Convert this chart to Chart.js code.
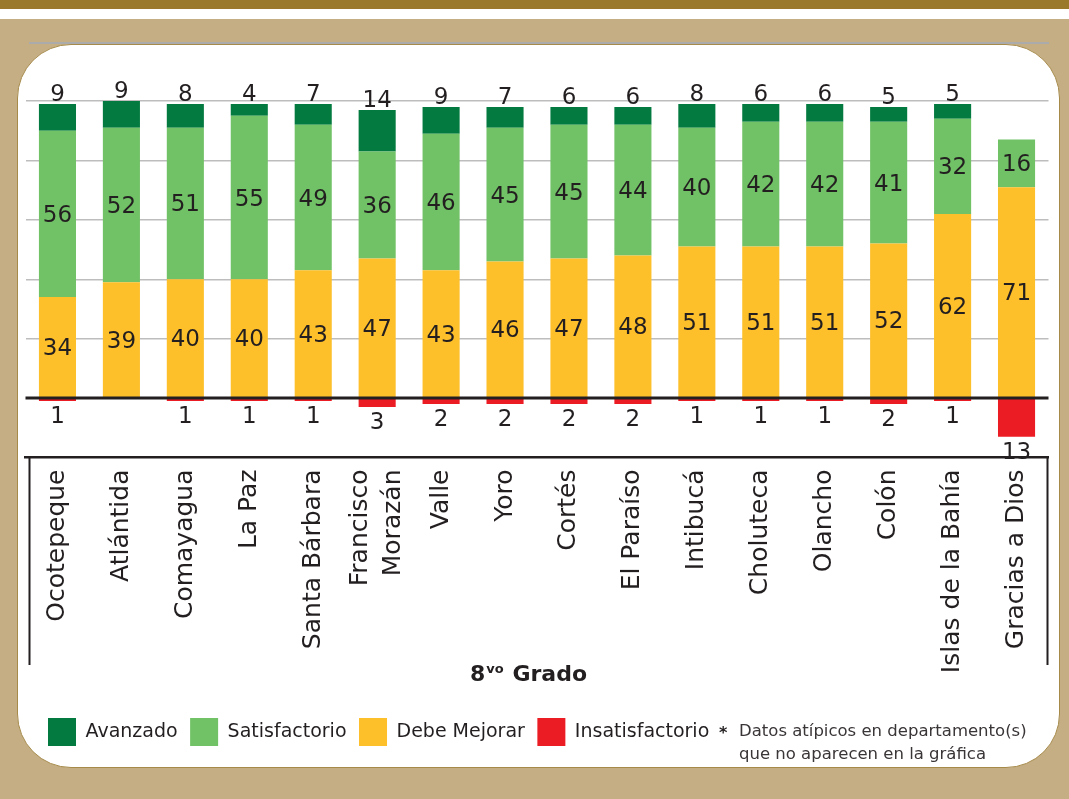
<!DOCTYPE html>
<html><head><meta charset="utf-8">
<script src="https://cdn.jsdelivr.net/npm/chart.js@4.4.1/dist/chart.umd.min.js"></script>
<style>
html,body{margin:0;padding:0;}
body{width:1069px;height:799px;position:relative;overflow:hidden;background:#c5ae84;}
#topbar{position:absolute;left:0;top:0;width:1069px;height:9px;background:#9a792d;}
#strip{position:absolute;left:0;top:9px;width:1069px;height:10px;background:#fff;}
#panel{position:absolute;left:17px;top:44px;width:1043px;height:724px;box-sizing:border-box;background:#fff;border:1.5px solid #a68a4a;border-radius:54px;}
#rule{position:absolute;left:29px;top:42px;width:1020px;height:2px;background:#ababab;}
canvas{position:absolute;left:0;top:0;}
</style></head>
<body>
<div id="topbar"></div><div id="strip"></div><div id="panel"></div><div id="rule"></div>
<canvas id="c" width="1069" height="799"></canvas>
<script>
const categories = ["Ocotepeque","Atlántida","Comayagua","La Paz","Santa Bárbara",["Francisco","Morazán"],"Valle","Yoro","Cortés","El Paraíso","Intibucá","Choluteca","Olancho","Colón","Islas de la Bahía","Gracias a Dios"];
const avanzado        = [9, 9, 8, 4, 7, 14, 9, 7, 6, 6, 8, 6, 6, 5, 5, null];
const satisfactorio   = [56, 52, 51, 55, 49, 36, 46, 45, 45, 44, 40, 42, 42, 41, 32, 16];
const debeMejorar     = [34, 39, 40, 40, 43, 47, 43, 46, 47, 48, 51, 51, 51, 52, 62, 71];
const insatisfactorio = [1, null, 1, 1, 1, 3, 2, 2, 2, 2, 1, 1, 1, 2, 1, 13];
const legendOrder = ["Avanzado","Satisfactorio","Debe Mejorar","Insatisfactorio"];
const axisTitle = {base:"8", sup:"vo", rest:" Grado"};
const noteLines = ["Datos atípicos en departamento(s)","que no aparecen en la gráfica"];

const FONT = '"DejaVu Sans", sans-serif';
const INK = '#231f20';

const decoPlugin = {
  id: 'deco',
  afterLayout(chart) {
    if (chart.legend) { chart.legend.left += 10; chart.legend.right += 10; }
  },
  beforeDraw(chart) {
    const xs = chart.scales.x;
    const items = xs.getLabelItems();
    items.forEach(it => {
      if (Array.isArray(it.label) && it.label.length > 1) {
        const lh = it.font.lineHeight;
        it.options.translation[0] -= (it.label.length - 1) * lh / 2;
      }
    });
  },
  afterDatasetsDraw(chart) {
    const ctx = chart.ctx, ca = chart.chartArea, ys = chart.scales.y;
    ctx.save();
    const y0 = ys.getPixelForValue(0);
    ctx.strokeStyle = INK; ctx.lineWidth = 3;
    ctx.beginPath(); ctx.moveTo(ca.left, y0); ctx.lineTo(ca.right, y0); ctx.stroke();
    ctx.font = '23px ' + FONT; ctx.fillStyle = INK; ctx.textAlign = 'center'; ctx.textBaseline = 'alphabetic';
    chart.data.datasets.forEach((ds, di) => {
      const meta = chart.getDatasetMeta(di);
      meta.data.forEach((bar, i) => {
        const v = ds.data[i];
        if (v === null || v === 0) return;
        const p = bar.getProps(['x','y','base'], true);
        const top = Math.min(p.y, p.base), bottom = Math.max(p.y, p.base);
        let ty;
        if (ds.label === 'Avanzado') ty = top - 3;
        else if (ds.label === 'Insatisfactorio') ty = bottom + 22;
        else ty = (top + bottom) / 2 + 8;
        ctx.fillText(String(Math.abs(v)), p.x, ty);
      });
    });
    ctx.restore();
  },
  afterDraw(chart) {
    const ctx = chart.ctx, ca = chart.chartArea;
    ctx.save();
    // label box side lines
    ctx.strokeStyle = INK; ctx.lineWidth = 2;
    const boxBottom = 665;
    ctx.beginPath();
    ctx.moveTo(ca.left + 4, ca.bottom); ctx.lineTo(ca.left + 4, boxBottom);
    ctx.moveTo(ca.right - 1, ca.bottom); ctx.lineTo(ca.right - 1, boxBottom);
    ctx.stroke();
    // axis title with superscript
    ctx.fillStyle = INK; ctx.textBaseline = 'alphabetic'; ctx.textAlign = 'left';
    ctx.font = 'bold 22px ' + FONT; const w1 = ctx.measureText(axisTitle.base).width;
    const w3 = ctx.measureText(axisTitle.rest).width;
    ctx.font = 'bold 13px ' + FONT; const w2 = ctx.measureText(axisTitle.sup).width + 1;
    const cx = (ca.left + ca.right) / 2 - 9;
    let x = cx - (w1 + w2 + w3) / 2;
    const by = 681;
    ctx.font = 'bold 22px ' + FONT; ctx.fillText(axisTitle.base, x, by); x += w1 + 1;
    ctx.font = 'bold 13px ' + FONT; ctx.fillText(axisTitle.sup, x, by - 8); x += w2;
    ctx.font = 'bold 22px ' + FONT; ctx.fillText(axisTitle.rest, x, by);
    // note
    ctx.font = 'bold 16px ' + FONT; ctx.fillText('*', 719, 738);
    ctx.font = '16.5px ' + FONT; ctx.fillStyle = '#3a3536';
    ctx.textBaseline = 'middle';
    ctx.fillText(noteLines[0], 739, 732);
    ctx.fillText(noteLines[1], 739, 755);
    ctx.restore();
  }
};

new Chart(document.getElementById('c'), {
  type: 'bar',
  data: {
    labels: categories,
    datasets: [
      {label: 'Debe Mejorar', data: debeMejorar, backgroundColor: '#fdbf2a'},
      {label: 'Satisfactorio', data: satisfactorio, backgroundColor: '#71c166'},
      {label: 'Avanzado', data: avanzado, backgroundColor: '#037a3f'},
      {label: 'Insatisfactorio', data: insatisfactorio.map(v => v === null ? null : -v), backgroundColor: '#ec1c24'}
    ]
  },
  options: {
    responsive: false,
    animation: false,
    devicePixelRatio: 1,
    layout: {padding: {left: 25.5, right: 20.5, top: 101, bottom: 43}},
    datasets: {bar: {categoryPercentage: 1, barPercentage: 0.58, borderWidth: 0}},
    scales: {
      x: {
        stacked: true,
        grid: {display: false, drawTicks: false},
        border: {display: true, color: INK, width: 2.5},
        ticks: {
          autoSkip: false, maxRotation: 90, minRotation: 90, padding: 12,
          color: INK, font: {family: FONT, size: 25, lineHeight: 1.3}
        },
        afterFit: s => { s.height = 248; }
      },
      y: {
        stacked: true, min: -20, max: 100,
        ticks: {display: false, stepSize: 20},
        border: {display: false},
        grid: {
          drawTicks: false,
          color: c => (c.tick && c.tick.value > 0) ? '#bdbdbd' : 'rgba(0,0,0,0)',
          lineWidth: 1.5
        },
        afterFit: s => { s.width = 0; }
      }
    },
    plugins: {
      tooltip: {enabled: false},
      legend: {
        position: 'bottom', align: 'start',
        labels: {
          boxWidth: 28, boxHeight: 28, padding: 12.5, color: INK,
          font: {family: FONT, size: 19},
          sort: (a, b) => legendOrder.indexOf(a.text) - legendOrder.indexOf(b.text)
        }
      }
    }
  },
  plugins: [decoPlugin]
});
</script>
</body></html>
